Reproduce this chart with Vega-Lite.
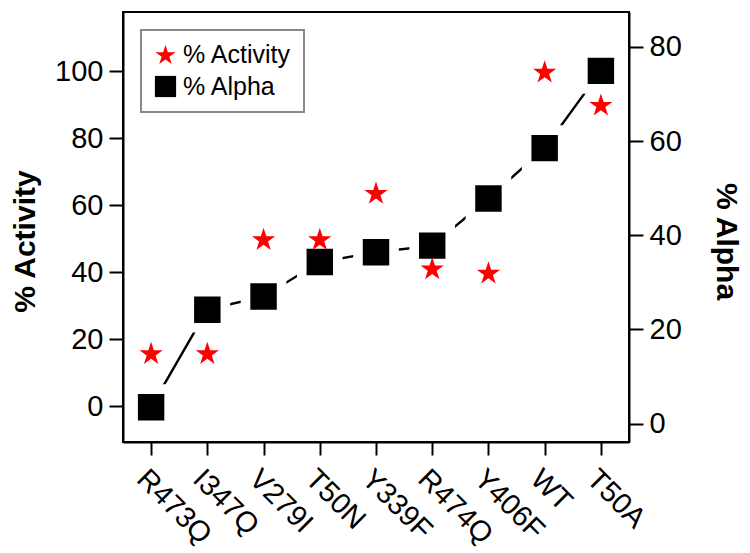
{
  "$schema": "https://vega.github.io/schema/vega-lite/v6.json",
  "width": 506,
  "height": 430,
  "autosize": "none",
  "padding": {"left": 123, "top": 12, "right": 121, "bottom": 111},
  "background": "white",
  "config": {
    "font": "Liberation Sans",
    "view": {"stroke": "black", "strokeWidth": 2},
    "axis": {
      "domainColor": "black", "domainWidth": 2,
      "tickColor": "black", "tickWidth": 2, "tickSize": 14,
      "labelFont": "Liberation Sans", "labelFontSize": 29, "labelColor": "black",
      "labelPadding": 6,
      "titleFont": "Liberation Sans", "titleFontSize": 30, "titleFontWeight": "bold", "titleColor": "black",
      "grid": false
    },
    "legend": {"strokeWidth": 2}
  },
  "data": {
    "values": [
      {"mutant": "R473Q", "series": "% Activity", "value": 16.0},
      {"mutant": "I347Q", "series": "% Activity", "value": 16.0},
      {"mutant": "V279I", "series": "% Activity", "value": 50.0},
      {"mutant": "T50N", "series": "% Activity", "value": 50.0},
      {"mutant": "Y339F", "series": "% Activity", "value": 63.8},
      {"mutant": "R474Q", "series": "% Activity", "value": 41.3},
      {"mutant": "Y406F", "series": "% Activity", "value": 40.0},
      {"mutant": "WT", "series": "% Activity", "value": 100.0},
      {"mutant": "T50A", "series": "% Activity", "value": 90.1},
      {"mutant": "R473Q", "series": "% Alpha", "value": 3.5},
      {"mutant": "I347Q", "series": "% Alpha", "value": 24.2},
      {"mutant": "V279I", "series": "% Alpha", "value": 27.0},
      {"mutant": "T50N", "series": "% Alpha", "value": 34.3},
      {"mutant": "Y339F", "series": "% Alpha", "value": 36.4},
      {"mutant": "R474Q", "series": "% Alpha", "value": 37.8},
      {"mutant": "Y406F", "series": "% Alpha", "value": 47.8},
      {"mutant": "WT", "series": "% Alpha", "value": 58.5},
      {"mutant": "T50A", "series": "% Alpha", "value": 74.9}
    ]
  },
  "encoding": {
    "x": {
      "field": "mutant", "type": "nominal", "sort": null,
      "scale": {"type": "point", "padding": 0.5},
      "axis": {"title": null, "labelAngle": 45, "labelAlign": "left", "labelBaseline": "top", "labelPadding": 9, "tickSize": 13}
    }
  },
  "layer": [
    {
      "transform": [{"filter": "datum.series == '% Alpha'"}],
      "encoding": {
        "y": {
          "field": "value", "type": "quantitative",
          "scale": {"domain": [-3.9, 87.4], "nice": false, "zero": false},
          "axis": {"orient": "right", "title": "% Alpha", "values": [0, 20, 40, 60, 80], "titleAngle": 90, "titleX": 87, "titleY": 229, "titleAlign": "center", "titleBaseline": "alphabetic"}
        }
      },
      "layer": [
        {"mark": {"type": "line", "color": "black", "strokeWidth": 2.4}},
        {
          "mark": {"type": "point", "filled": true, "size": 1300, "stroke": "white", "strokeWidth": 9.6, "opacity": 1},
          "encoding": {
            "color": {"field": "series", "type": "nominal"},
            "shape": {"field": "series", "type": "nominal"}
          }
        }
      ]
    },
    {
      "transform": [{"filter": "datum.series == '% Activity'"}],
      "mark": {"type": "point", "filled": true, "size": 600, "opacity": 1},
      "encoding": {
        "y": {
          "field": "value", "type": "quantitative",
          "scale": {"domain": [-10.6, 117.7], "nice": false, "zero": false},
          "axis": {"orient": "left", "title": "% Activity", "values": [0, 20, 40, 60, 80, 100], "titleAngle": -90, "titleX": -89, "titleY": 229, "titleAlign": "center", "titleBaseline": "alphabetic"}
        },
        "color": {"field": "series", "type": "nominal", "scale": {"domain": ["% Activity", "% Alpha"], "range": ["#ff0000", "#000000"]}, "legend": {"title": null, "orient": "none", "legendX": 18, "legendY": 18, "padding": 12, "strokeColor": "#888888", "fillColor": "white", "labelFontSize": 25, "labelFont": "Liberation Sans", "labelColor": "black", "symbolSize": 450, "symbolStrokeWidth": 0, "rowPadding": 6, "labelOffset": 5}},
        "shape": {"field": "series", "type": "nominal", "scale": {"domain": ["% Activity", "% Alpha"], "range": ["M0,-0.905L0.2245,-0.2135L0.9511,-0.2135L0.3633,0.2135L0.5878,0.9045L0,0.4775L-0.5878,0.9045L-0.3633,0.2135L-0.9511,-0.2135L-0.2245,-0.2135Z", "square"]}}
      }
    }
  ],
  "resolve": {"scale": {"y": "independent"}}
}
